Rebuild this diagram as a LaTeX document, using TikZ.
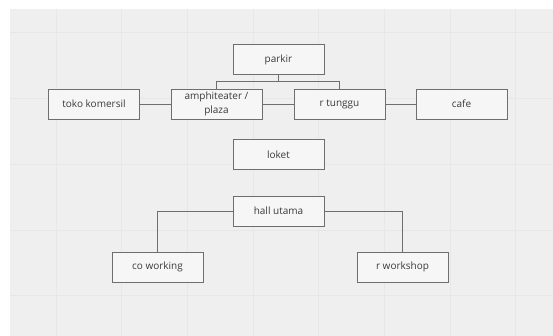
\documentclass[tikz,border=0pt]{standalone}
\usepackage{fontspec}
\setmainfont{Open Sans}
\usetikzlibrary{positioning}
\definecolor{boardbg}{HTML}{EFEFEF}
\definecolor{gridline}{HTML}{E7E7E7}
\definecolor{boxline}{HTML}{6E6E6E}
\definecolor{boxfill}{HTML}{F6F6F6}
\definecolor{txt}{HTML}{3A3A3A}
\tikzset{
	ruang/.style={draw=boxline, fill=boxfill, line width=0.9pt, minimum width=91pt, minimum height=30pt, inner sep=1pt, align=center, text=txt, font=\fontsize{10}{13.5}\selectfont},
	hubung/.style={draw=boxline, line width=0.9pt}
}
\begin{document}
\begin{tikzpicture}[x=1pt, y=-1pt]
	\useasboundingbox (0, 0) rectangle (553, 336);
	\fill[white] (0, 0) rectangle (553, 336);
	\fill[boardbg] (10, 9) rectangle (553, 336);
	\foreach \x in {56, 121.7, 187.4, 253.1, 318.8, 384.5, 450.2, 515.9}
		\draw[gridline, line width=1pt] (\x, 9)--(\x, 336);
	\foreach \y in {33, 98.7, 164.4, 230.1, 295.8}
		\draw[gridline, line width=1pt] (10, \y)--(553, \y);

	% ruang
	\node[ruang] (parkir) at (278.5, 59.5) {parkir};
	\node[ruang] (toko) at (94, 104) {toko komersil};
	\node[ruang, inner sep=0pt] (amphi) at (216.5, 104) {amphiteater /\\plaza};
	\node[ruang] (tunggu) at (339.5, 104) {r tunggu};
	\node[ruang] (cafe) at (461.5, 104) {cafe};
	\node[ruang] (loket) at (278.5, 154.5) {loket};
	\node[ruang] (hall) at (278.5, 211) {hall utama};
	\node[ruang] (cowork) at (157.5, 267) {co working};
	\node[ruang] (workshop) at (402.5, 267) {r workshop};

	% hubungan
	\coordinate (cabang) at ([yshift=-7pt]parkir.south);
	\draw[hubung] (parkir.south)--(cabang);
	\draw[hubung] (cabang) -| (amphi.north);
	\draw[hubung] (cabang) -| (tunggu.north);
	\draw[hubung] (toko.east)--(amphi.west);
	\draw[hubung] (amphi.east)--(tunggu.west);
	\draw[hubung] (tunggu.east)--(cafe.west);
	\draw[hubung] (hall.west) -| (cowork.north);
	\draw[hubung] (hall.east) -| (workshop.north);
\end{tikzpicture}
\end{document}
